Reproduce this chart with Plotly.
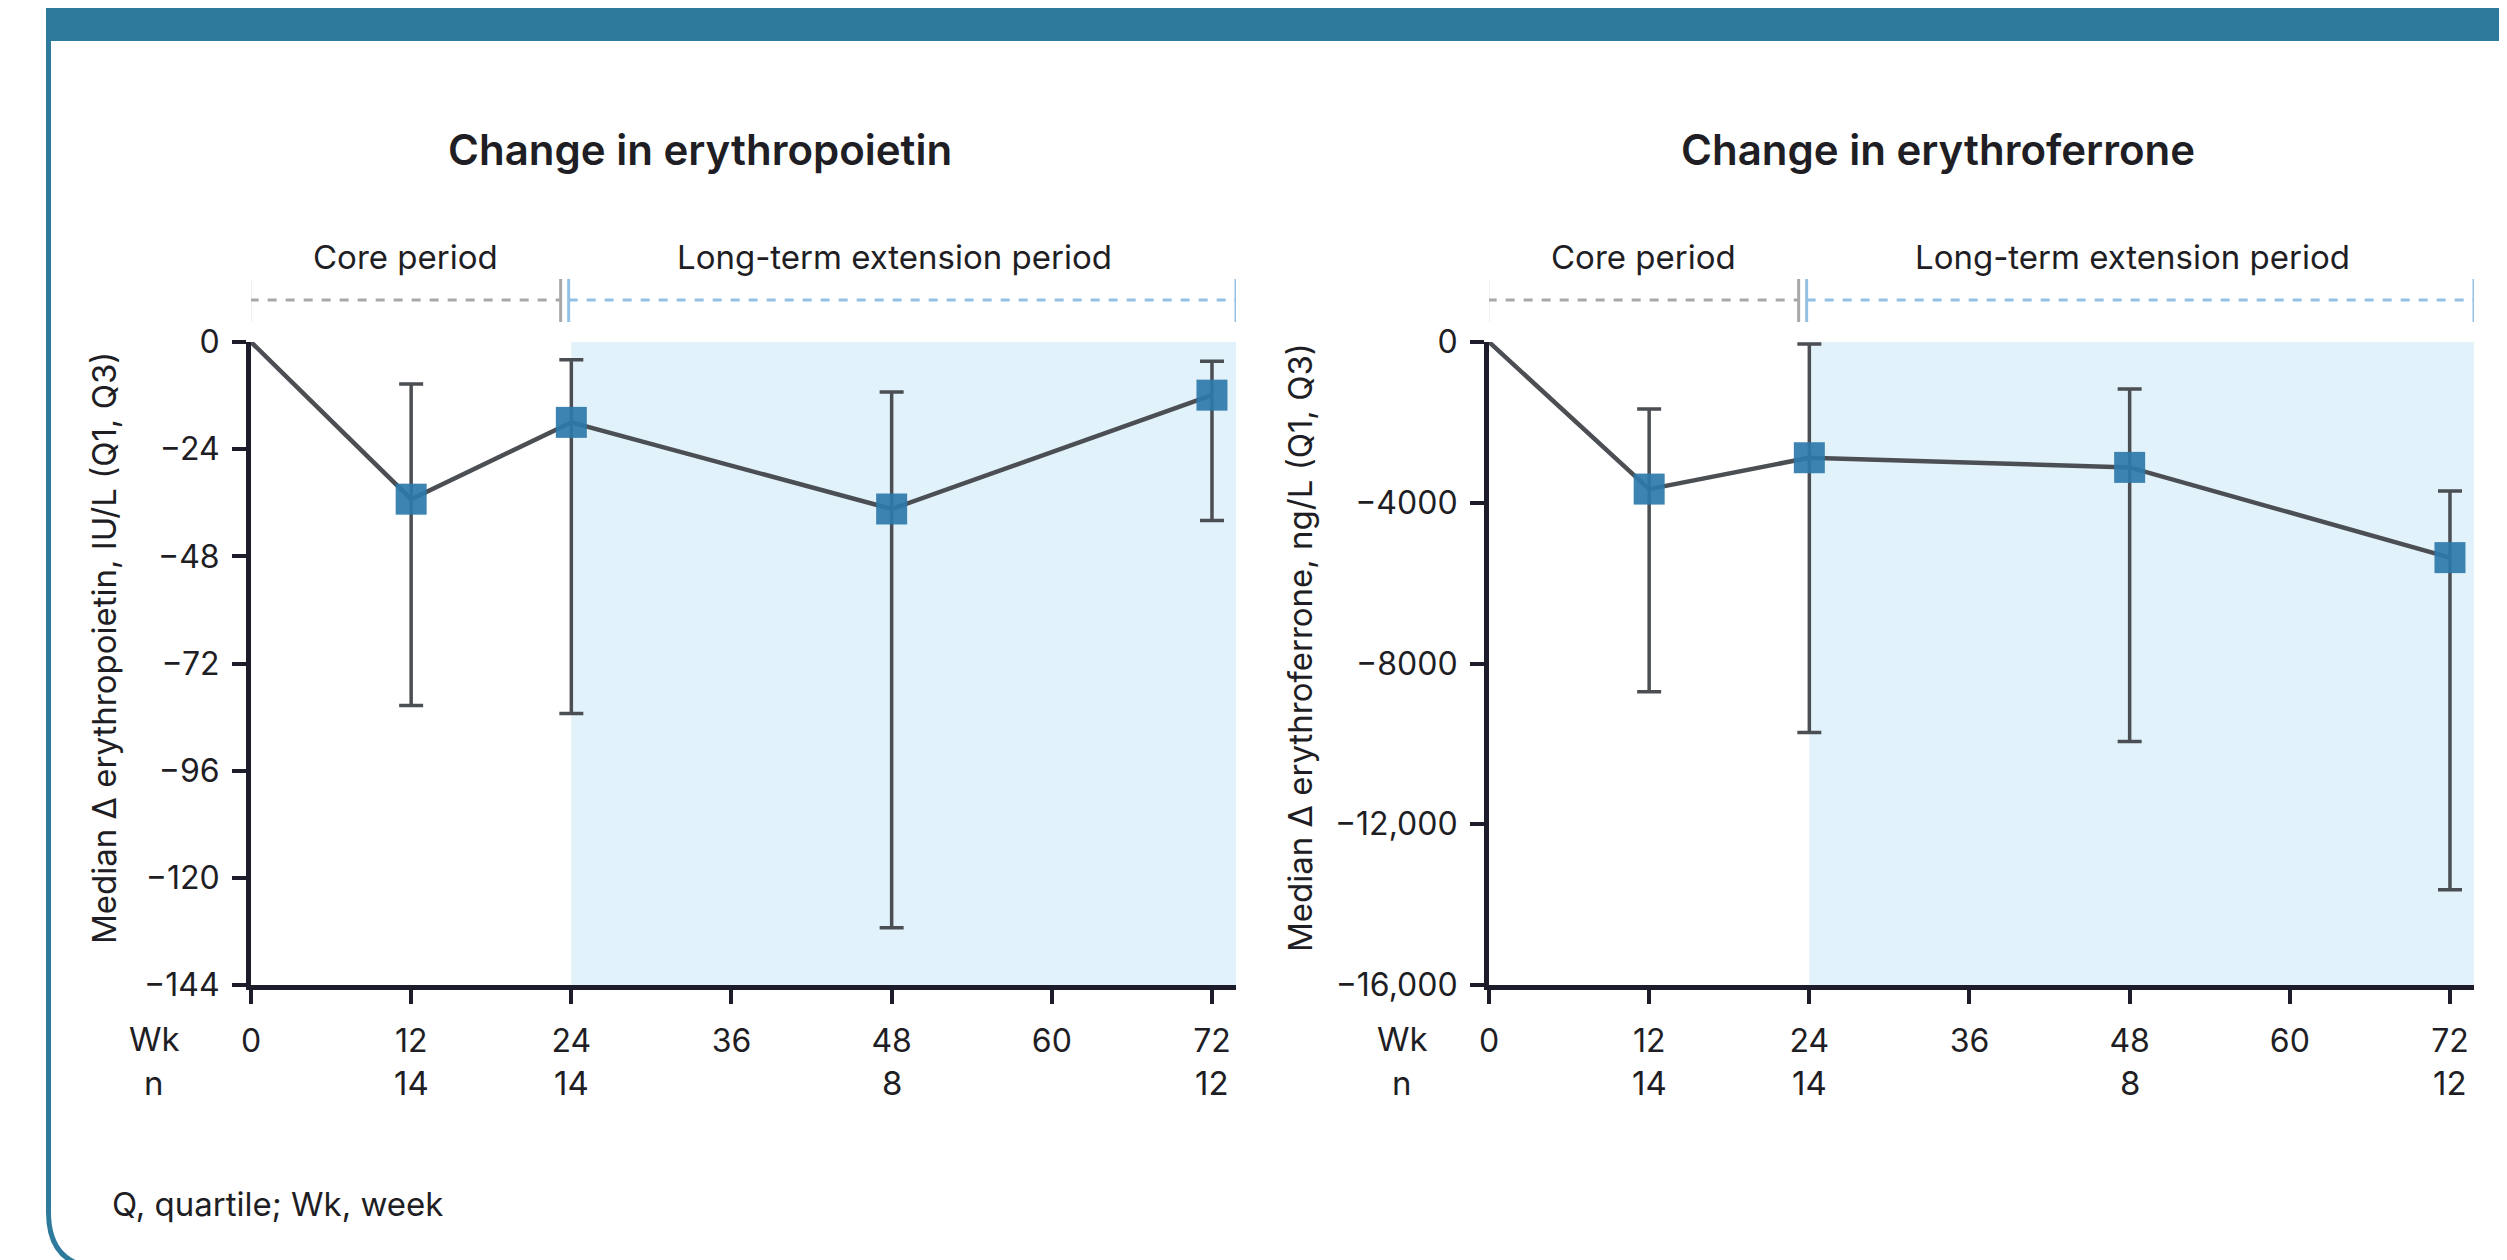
import plotly.graph_objects as go

W, H = 2507, 1260

# ---------------- data ----------------
weeks = [12, 24, 48, 72]
n_values = [14, 14, 8, 12]
week_ticks = [0, 12, 24, 36, 48, 60, 72]

epo_median = [-35.2, -18.0, -37.4, -11.9]
epo_q1 = [-81.4, -83.2, -131.2, -40.0]
epo_q3 = [-9.4, -4.0, -11.2, -4.3]

erfe_median = [-3660, -2880, -3120, -5365]
erfe_q1 = [-8700, -9720, -9940, -13630]
erfe_q3 = [-1670, -50, -1170, -3710]

epo_ticks = [0, -24, -48, -72, -96, -120, -144]
erfe_ticks = [0, -4000, -8000, -12000, -16000]
erfe_ticktext = ["0", "\u22124000", "\u22128000", "\u221212,000", "\u221216,000"]

titles = ["Change in erythropoietin", "Change in erythroferrone"]
ytitles = ["Median \u0394 erythropoietin, IU/L (Q1, Q3)",
           "Median \u0394 erythroferrone, ng/L (Q1, Q3)"]
periods = ["Core period", "Long-term extension period"]
footnote = "Q, quartile; Wk, week"

# ---------------- style ----------------
FONT = "Inter"
TXT = "#1e1e24"
TEAL = "#2e7a9c"
MARK = "#2e7aab"
LINE = "#4b4f53"
SHADE = "#e1f2fa"
AXIS = "#1c1c2b"
CORE_C = "#a8a8a8"
LTE_C = "#93c1e6"

OFF = 8  # page body margin offset compensation

def px_x(p):
    return (p - OFF) / W

def px_y(p):
    return 1 - (p - OFF) / H

xmax = 73.8
y_top, y_bot = px_y(342), px_y(985)
dom_l = [px_x(251), px_x(1236)]
dom_r = [px_x(1489), px_x(2474)]

fig = go.Figure()

panels = [
    dict(xa="x", ya="y", med=epo_median, q1=epo_q1, q3=epo_q3, ymin=-144),
    dict(xa="x2", ya="y2", med=erfe_median, q1=erfe_q1, q3=erfe_q3, ymin=-16000),
]

for p in panels:
    fig.add_trace(go.Scatter(
        x=[0] + weeks, y=[0] + p["med"], mode="lines",
        line=dict(color=LINE, width=4.5), xaxis=p["xa"], yaxis=p["ya"],
        showlegend=False, hoverinfo="skip"))
    fig.add_trace(go.Scatter(
        x=weeks, y=p["med"], mode="markers",
        marker=dict(symbol="square", size=31, color=MARK, opacity=0.92,
                    line=dict(width=0)),
        error_y=dict(type="data", symmetric=False,
                     array=[q3 - m for q3, m in zip(p["q3"], p["med"])],
                     arrayminus=[m - q1 for q1, m in zip(p["q1"], p["med"])],
                     color=LINE, thickness=3.5, width=12),
        xaxis=p["xa"], yaxis=p["ya"], showlegend=False))

axis_common = dict(
    showgrid=False, zeroline=False, showline=True, linecolor=AXIS, linewidth=5,
    ticks="outside", ticklen=14, tickwidth=4, tickcolor=AXIS, automargin=False,
    tickfont=dict(family=FONT, size=32, color=TXT),
)

fig.update_layout(
    width=W, height=H, margin=dict(l=0, r=0, t=0, b=0, pad=0),
    paper_bgcolor="white", plot_bgcolor="rgba(0,0,0,0)",
    font=dict(family=FONT, color=TXT),
    xaxis=dict(domain=dom_l, range=[0, xmax], tickvals=week_ticks, anchor="y",
               ticklabelstandoff=10, **axis_common),
    yaxis=dict(domain=[y_bot, y_top], range=[-144, 0], tickvals=epo_ticks,
               anchor="x", ticklabelstandoff=6, **axis_common),
    xaxis2=dict(domain=dom_r, range=[0, xmax], tickvals=week_ticks, anchor="y2",
                ticklabelstandoff=10, **axis_common),
    yaxis2=dict(domain=[y_bot, y_top], range=[-16000, 0], tickvals=erfe_ticks,
                ticktext=erfe_ticktext, anchor="x2", ticklabelstandoff=6,
                **axis_common),
)

shapes = []
annotations = []

def text_ann(**kw):
    d = dict(showarrow=False, xanchor="center", yanchor="middle")
    d.update(kw)
    annotations.append(d)

# frame: header bar and left border with rounded corner
shapes.append(dict(type="rect", xref="paper", yref="paper",
                   x0=px_x(46), x1=1.01, y0=px_y(41), y1=1.02,
                   fillcolor=TEAL, line=dict(width=0), layer="above"))
path = "M {:.5f},{:.5f} L {:.5f},{:.5f} Q {:.5f},{:.5f} {:.5f},{:.5f} L 1.0,{:.5f}".format(
    px_x(48.5), px_y(40), px_x(48.5), px_y(1212),
    px_x(48.5), px_y(1268), px_x(104), px_y(1268), px_y(1268))
shapes.append(dict(type="path", xref="paper", yref="paper", path=path,
                   line=dict(color=TEAL, width=5), layer="above"))

yl_x = [px_x(104), px_x(1300)]
title_x = [px_x(700), px_x(1938)]
wk_x = [px_x(154), px_x(1402)]
font33 = dict(family=FONT, size=33, color=TXT)

for i, (xa, ya) in enumerate([("x", "y"), ("x2", "y2")]):
    # shaded extension period
    shapes.append(dict(type="rect", xref=xa, yref=ya, x0=24, x1=xmax,
                       y0=panels[i]["ymin"], y1=0, fillcolor=SHADE,
                       line=dict(width=0), layer="below"))
    # period brackets
    yb, yt1, yt2 = px_y(300), px_y(279), px_y(322)
    shapes.append(dict(type="line", xref=xa, yref="paper", x0=-0.1, x1=23.2,
                       y0=yb, y1=yb, line=dict(color=CORE_C, width=3, dash="dash")))
    for xv in (-0.1, 23.2):
        shapes.append(dict(type="line", xref=xa, yref="paper", x0=xv, x1=xv,
                           y0=yt1, y1=yt2, line=dict(color=CORE_C, width=3)))
    shapes.append(dict(type="line", xref=xa, yref="paper", x0=23.8, x1=xmax,
                       y0=yb, y1=yb, line=dict(color=LTE_C, width=3, dash="dash")))
    for xv in (23.8, xmax):
        shapes.append(dict(type="line", xref=xa, yref="paper", x0=xv, x1=xv,
                           y0=yt1, y1=yt2, line=dict(color=LTE_C, width=3)))
    text_ann(xref=xa, yref="paper", x=11.6, y=px_y(257), text=periods[0], font=font33)
    text_ann(xref=xa, yref="paper", x=48.2, y=px_y(257), text=periods[1], font=font33)
    # panel title
    text_ann(xref="paper", yref="paper", x=title_x[i], y=px_y(149),
             text=titles[i],
             font=dict(family=FONT, size=42, color=TXT, weight=600))
    # y axis title
    text_ann(xref="paper", yref="paper", x=yl_x[i], y=px_y(648), text=ytitles[i],
             textangle=-90, font=dict(family=FONT, size=33, color=TXT))
    # row labels
    text_ann(xref="paper", yref="paper", x=wk_x[i], y=px_y(1039), text="Wk", font=font33)
    text_ann(xref="paper", yref="paper", x=wk_x[i], y=px_y(1083), text="n", font=font33)
    for wv, nv in zip(weeks, n_values):
        text_ann(xref=xa, yref="paper", x=wv, y=px_y(1083), text=str(nv), font=font33)

text_ann(xref="paper", yref="paper", x=px_x(110), y=px_y(1204), xanchor="left",
         text=footnote, font=font33)

fig.update_layout(shapes=shapes, annotations=annotations)

fig.write_html("out.html")
